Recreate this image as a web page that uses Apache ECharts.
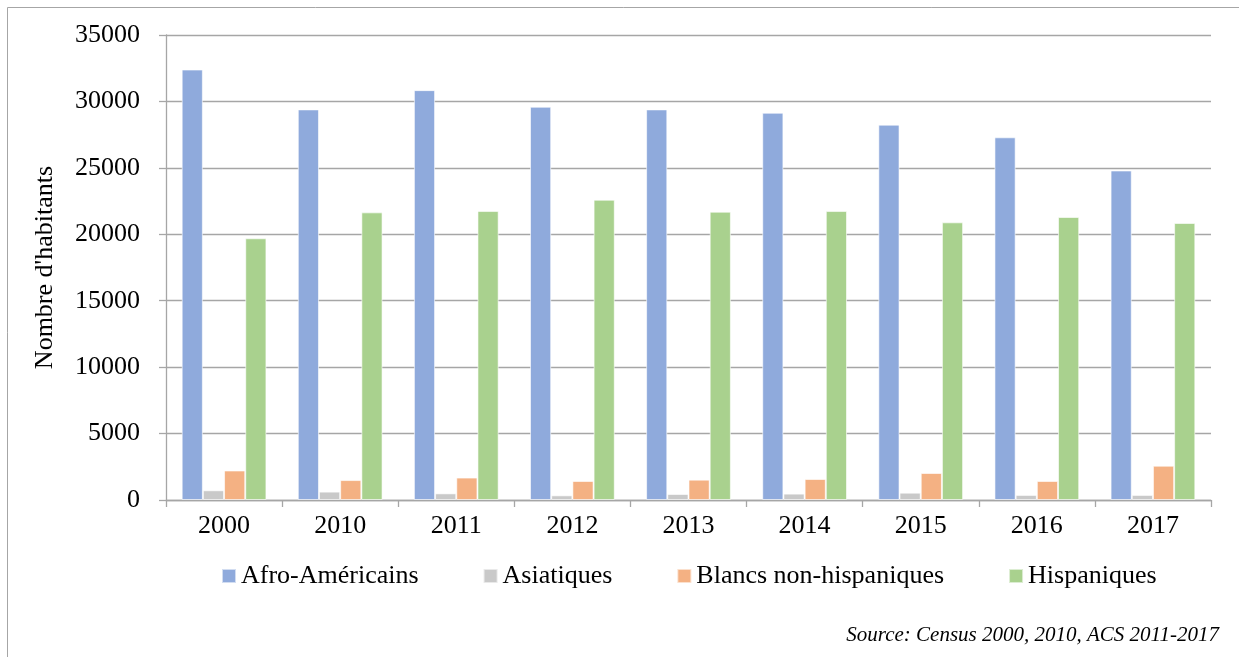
<!DOCTYPE html>
<html>
<head>
<meta charset="utf-8">
<script src="https://cdn.jsdelivr.net/npm/echarts@6/dist/echarts.min.js"></script>
<style>
html,body{margin:0;padding:0;background:#fff;}
#chart{width:1239px;height:657px;}
</style>
</head>
<body>
<div id="chart"></div>
<script>
const categories = ['2000','2010','2011','2012','2013','2014','2015','2016','2017'];
const afroAmericains = [32400, 29400, 30850, 29600, 29400, 29150, 28250, 27300, 24800];
const asiatiques = [730, 630, 500, 350, 450, 480, 550, 380, 380];
const blancsNonHispaniques = [2220, 1500, 1690, 1430, 1530, 1580, 2030, 1430, 2580];
const hispaniques = [19700, 21650, 21750, 22600, 21700, 21750, 20900, 21300, 20850];
const yTicks = { min: 0, max: 35000, interval: 5000 };

const serif = 'Liberation Serif';
const chart = echarts.init(document.getElementById('chart'));
function bar(name, data, color) {
  return {
    name, type: 'bar', data, barGap: '0%', barCategoryGap: '27%',
    itemStyle: { color, borderColor: 'rgba(255,255,255,0.6)', borderWidth: 1 }
  };
}
chart.setOption({
  animation: false,
  textStyle: { fontFamily: serif },
  graphic: [{
    type: 'rect', shape: { x: 7.5, y: 7.5, width: 1300, height: 700 },
    style: { fill: 'none', stroke: '#a6a6a6', lineWidth: 1 }, silent: true
  }, {
    type: 'text', right: 20, top: 625,
    style: { text: 'Source: Census 2000, 2010, ACS 2011-2017', font: 'italic 21px "Liberation Serif"', fill: '#000' }
  }],
  grid: { left: 166, top: 35, width: 1045, height: 465, containLabel: false },
  legend: {
    top: 558, left: 216,
    itemWidth: 14, itemHeight: 14, itemGap: 64,
    icon: 'rect',
    textStyle: { fontFamily: serif, fontSize: 26, color: '#000' },
    data: ['Afro-Américains', 'Asiatiques', 'Blancs non-hispaniques', 'Hispaniques']
  },
  xAxis: {
    type: 'category', data: categories,
    axisLine: { lineStyle: { color: '#a6a6a6', width: 1.3 } },
    axisTick: { show: true, length: 7, lineStyle: { color: '#a6a6a6', width: 1.3 } },
    axisLabel: { fontFamily: serif, fontSize: 26, color: '#000', margin: 13 }
  },
  yAxis: {
    type: 'value', min: yTicks.min, max: yTicks.max, interval: yTicks.interval,
    name: "Nombre d'habitants", nameLocation: 'middle', nameGap: 108, nameRotate: 90,
    nameTextStyle: { fontFamily: serif, fontSize: 26, color: '#000' },
    axisLine: { show: true, lineStyle: { color: '#a6a6a6', width: 1.3 } },
    axisTick: { show: true, length: 7, lineStyle: { color: '#a6a6a6', width: 1.3 } },
    splitLine: { lineStyle: { color: '#a6a6a6', width: 1.3 } },
    axisLabel: { fontFamily: serif, fontSize: 26, color: '#000', margin: 26, formatter: v => String(v) }
  },
  series: [
    bar('Afro-Américains', afroAmericains, '#8faadc'),
    bar('Asiatiques', asiatiques, '#c9c9c9'),
    bar('Blancs non-hispaniques', blancsNonHispaniques, '#f4b183'),
    bar('Hispaniques', hispaniques, '#a9d18e')
  ]
});
</script>
</body>
</html>
